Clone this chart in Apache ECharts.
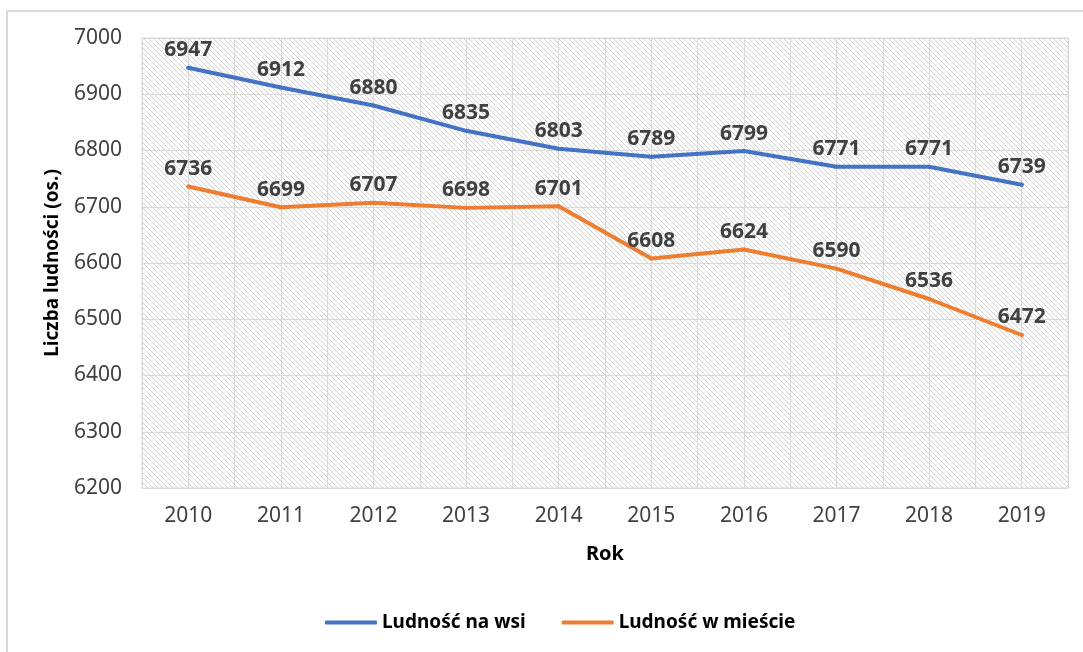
<!DOCTYPE html>
<html>
<head>
<meta charset="utf-8">
<script src="https://cdn.jsdelivr.net/npm/echarts@6/dist/echarts.min.js"></script>
<style>
  html, body { margin: 0; padding: 0; background: #fff; overflow: hidden; }
  #main { width: 1083px; height: 652px; }
</style>
</head>
<body>
<div id="main"></div>
<script>
// dane
const years = ['2010', '2011', '2012', '2013', '2014', '2015', '2016', '2017', '2018', '2019'];
const wies = [6947, 6912, 6880, 6835, 6803, 6789, 6799, 6771, 6771, 6739];
const miasto = [6736, 6699, 6707, 6698, 6701, 6608, 6624, 6590, 6536, 6472];
const yTicks = { min: 6200, max: 7000, step: 100 };

// ukośne kreskowanie tła (jak w Excelu)
function hatch() {
  const s = 5;
  const c = document.createElement('canvas');
  c.width = s; c.height = s;
  const ctx = c.getContext('2d');
  ctx.fillStyle = '#ffffff';
  ctx.fillRect(0, 0, s, s);
  ctx.strokeStyle = '#d2d2d2';
  ctx.lineWidth = 1;
  ctx.beginPath();
  ctx.moveTo(-1, -1); ctx.lineTo(s + 1, s + 1);
  ctx.moveTo(-1, s - 1); ctx.lineTo(1, s + 1);
  ctx.moveTo(s - 1, -1); ctx.lineTo(s + 1, 1);
  ctx.stroke();
  return c;
}

const font = '"Noto Sans", "Open Sans", sans-serif';
const gridColor = '#d9d9d9';

function lineSeries(name, data, color) {
  return {
    name: name,
    type: 'line',
    data: data,
    symbol: 'circle',
    symbolSize: 4,
    color: color,
    itemStyle: { color: color },
    lineStyle: { width: 4, color: color, cap: 'round' },
    label: { show: true, position: 'top', distance: 5, fontSize: 21, fontWeight: 'bold', color: '#404040' },
    labelLayout: { hideOverlap: false },
    z: 3
  };
}

let myChart = echarts.init(document.getElementById('main'));
myChart.setOption({
  backgroundColor: '#fff',
  textStyle: { fontFamily: font },
  graphic: [{
    type: 'rect',
    silent: true,
    shape: { x: 7, y: 11, width: 1200, height: 800 },
    style: { fill: 'none', stroke: gridColor, lineWidth: 2 }
  }],
  grid: {
    left: 142, right: 15, top: 38, bottom: 164,
    show: true,
    backgroundColor: { image: hatch(), repeat: 'repeat' },
    borderColor: gridColor,
    borderWidth: 1
  },
  legend: {
    left: 320, top: 608,
    itemWidth: 52, itemHeight: 4, itemGap: 36,
    icon: 'roundRect',
    textStyle: { fontSize: 19, fontWeight: 'bold', color: '#000', fontFamily: font },
    data: ['Ludność na wsi', 'Ludność w mieście']
  },
  xAxis: [{
    type: 'category',
    data: years,
    boundaryGap: true,
    name: 'Rok',
    nameLocation: 'middle',
    nameGap: 56,
    nameTextStyle: { fontSize: 20, fontWeight: 'bold', color: '#000' },
    axisLine: { lineStyle: { color: gridColor } },
    axisTick: { show: false },
    axisLabel: { fontSize: 21, color: '#404040', margin: 18 },
    splitLine: { show: false }
  }, {
    // pomocnicza oś – linie siatki co pół kategorii
    type: 'category',
    data: years.flatMap(y => [y + 'a', y + 'b']),
    boundaryGap: true,
    position: 'bottom',
    axisLine: { show: false },
    axisTick: { show: false },
    axisLabel: { show: false },
    splitLine: { show: true, lineStyle: { color: gridColor, width: 1 } }
  }],
  yAxis: {
    type: 'value',
    min: yTicks.min,
    max: yTicks.max,
    interval: yTicks.step,
    name: 'Liczba ludności (os.)',
    nameLocation: 'middle',
    nameGap: 80,
    nameTextStyle: { fontSize: 19, fontWeight: 'bold', color: '#000' },
    axisLine: { show: false },
    axisTick: { show: false },
    axisLabel: { fontSize: 21, color: '#404040', margin: 20, formatter: v => String(v) },
    splitLine: { lineStyle: { color: gridColor, width: 1 } }
  },
  series: [
    lineSeries('Ludność na wsi', wies, '#4472C4'),
    lineSeries('Ludność w mieście', miasto, '#ED7D31')
  ]
});
</script>
</body>
</html>
